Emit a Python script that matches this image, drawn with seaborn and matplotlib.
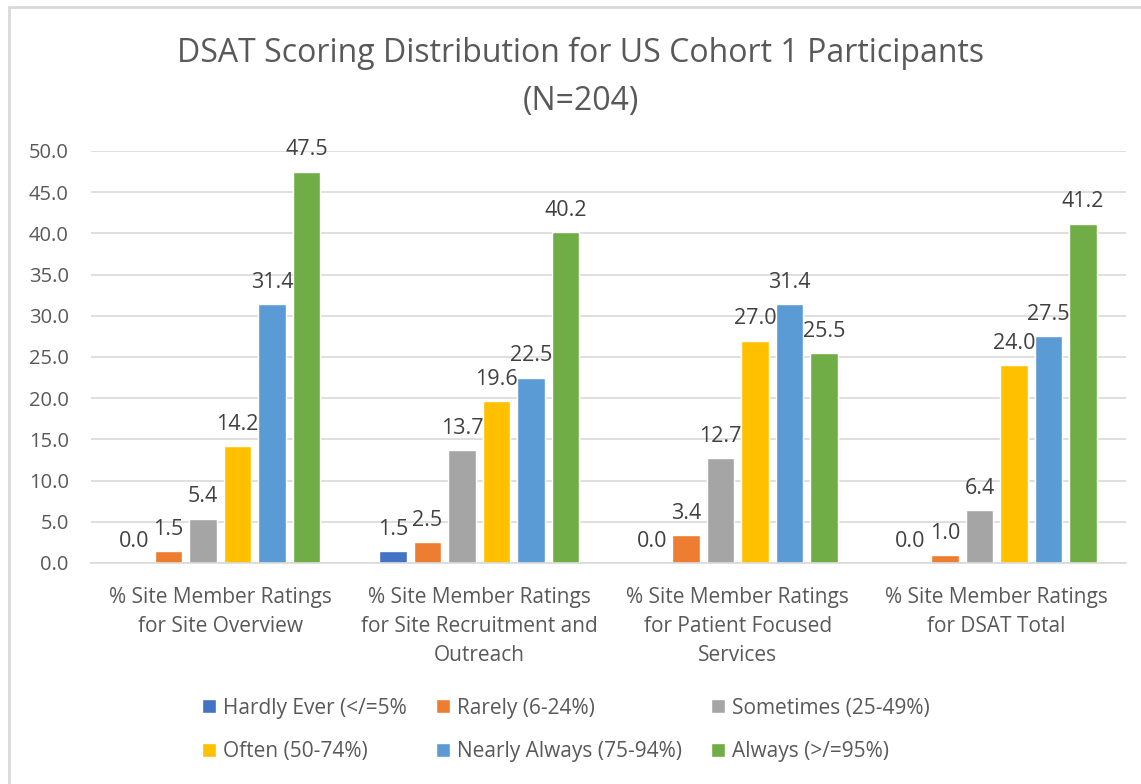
import numpy as np
import pandas as pd
import matplotlib.pyplot as plt
import seaborn as sns
from matplotlib.patches import Rectangle

# categories and series
categories = [
    "% Site Member Ratings\nfor Site Overview",
    "% Site Member Ratings\nfor Site Recruitment and\nOutreach",
    "% Site Member Ratings\nfor Patient Focused\nServices",
    "% Site Member Ratings\nfor DSAT Total",
]
ratings = [
    "Hardly Ever (</=5%",
    "Rarely (6-24%)",
    "Sometimes (25-49%)",
    "Often (50-74%)",
    "Nearly Always (75-94%)",
    "Always (>/=95%)",
]
hardly_ever = [0.0, 1.5, 0.0, 0.0]
rarely = [1.5, 2.5, 3.4, 1.0]
sometimes = [5.4, 13.7, 12.7, 6.4]
often = [14.2, 19.6, 27.0, 24.0]
nearly_always = [31.4, 22.5, 31.4, 27.5]
always = [47.5, 40.2, 25.5, 41.2]
colors = ["#4472C4", "#ED7D31", "#A5A5A5", "#FFC000", "#5B9BD5", "#70AD47"]
y_ticks = np.arange(0, 50.1, 5)

series = [hardly_ever, rarely, sometimes, often, nearly_always, always]
rows = []
for rating, vals in zip(ratings, series):
    for cat, v in zip(categories, vals):
        rows.append({"category": cat, "rating": rating, "value": v})
df = pd.DataFrame(rows)

sns.set_style("white")
plt.rcParams["font.family"] = ["Open Sans", "DejaVu Sans"]
text_grey = "#595959"

fig = plt.figure(figsize=(11.41, 7.84), dpi=100)
ax = fig.add_axes([91 / 1141, 1 - 563 / 784, (1126 - 91) / 1141, (563 - 151) / 784])

sns.barplot(data=df, x="category", y="value", hue="rating", order=categories,
            hue_order=ratings, palette=colors, width=0.8, gap=0.2,
            saturation=1, ax=ax, errorbar=None)

# value labels on every bar, zeros included
for cont in ax.containers:
    ax.bar_label(cont, fmt="%.1f", padding=8, fontsize=15.5, color="#404040")

ax.set_ylim(0, 50)
ax.set_yticks(y_ticks)
ax.set_yticklabels([f"{t:.1f}" for t in y_ticks])
ax.set_xlabel("")
ax.set_ylabel("")
ax.yaxis.grid(True, color="#D9D9D9", lw=1.2)
ax.set_axisbelow(True)
for s in ["left", "right", "top"]:
    ax.spines[s].set_visible(False)
ax.spines["bottom"].set_color("#D9D9D9")
ax.spines["bottom"].set_linewidth(1.2)
ax.tick_params(axis="y", length=0, pad=16, labelsize=14.5, labelcolor=text_grey)
ax.tick_params(axis="x", length=0, pad=17, labelsize=15, labelcolor=text_grey)
for lbl in ax.get_xticklabels():
    lbl.set_linespacing(1.5)

# legend laid out row by row like the original
handles, labels = ax.get_legend_handles_labels()
ax.legend_.remove()
order = [0, 3, 1, 4, 2, 5]
fig.legend([handles[i] for i in order], [labels[i] for i in order],
           loc="center", bbox_to_anchor=(566 / 1141, 1 - 730 / 784), ncol=3,
           frameon=False, fontsize=15, labelcolor=text_grey,
           handlelength=0.65, handleheight=0.65, handletextpad=0.35,
           columnspacing=1.4, labelspacing=1.1)

fig.text(581 / 1141, 1 - 77 / 784,
         "DSAT Scoring Distribution for US Cohort 1 Participants\n(N=204)",
         ha="center", va="center", fontsize=23, color=text_grey,
         linespacing=1.6)

# light chart frame (cut off at right and bottom in the original)
fig.add_artist(Rectangle((9 / 1141, -0.1), 1.2, 1.1 - 7 / 784,
                         transform=fig.transFigure, fill=False,
                         edgecolor="#D9D9D9", lw=2))

fig.savefig("out.png", dpi=100, facecolor="white")
